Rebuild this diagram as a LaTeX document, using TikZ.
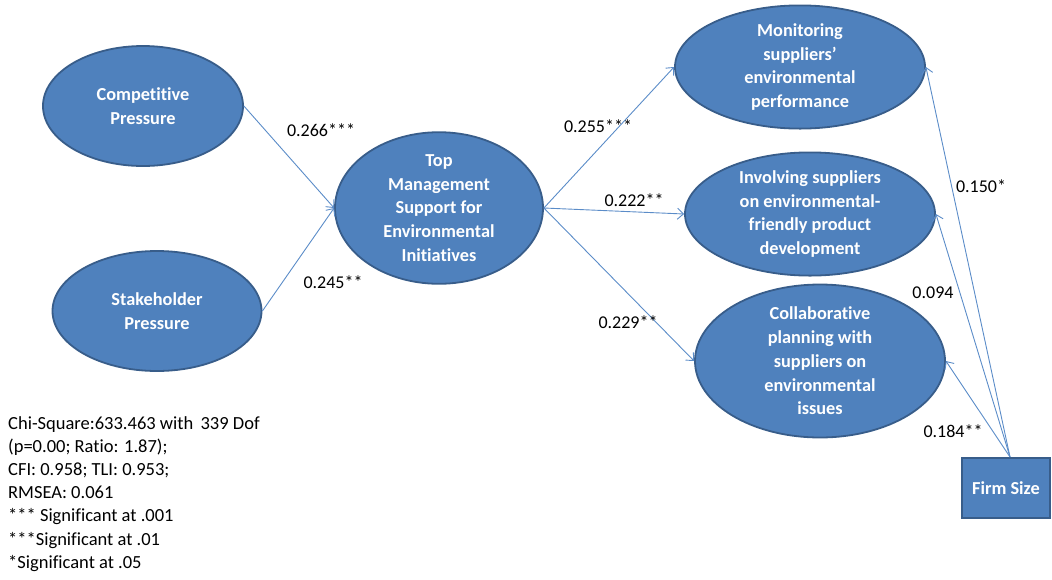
\documentclass[tikz,border=0pt]{standalone}
\usepackage{fontspec}
\setmainfont[Ligatures=NoCommon]{Carlito}
\usetikzlibrary{shapes.geometric,arrows.meta}
\definecolor{fillblue}{HTML}{4F81BD}
\definecolor{edgeblue}{HTML}{385D8A}
\definecolor{arrowblue}{HTML}{5B8CC8}
\tikzset{
  construct/.style={ellipse, draw=edgeblue, line width=1.8pt, fill=fillblue, text=white,
    font=\fontsize{18.3}{23.8}\selectfont\bfseries, align=center, inner sep=0pt},
  sizebox/.style={rectangle, draw=edgeblue, line width=1.8pt, fill=fillblue, text=white,
    font=\fontsize{18.3}{23.8}\selectfont\bfseries, align=center},
  path/.style={draw=arrowblue, line width=0.9pt, -{Straight Barb[length=6pt,width=11pt]}},
  coef/.style={font=\fontsize{18}{20}\selectfont, text=black, inner sep=1pt},
  legend/.style={font=\fontsize{18.5}{23.2}\selectfont, align=left, anchor=north west, inner sep=0pt}
}
\begin{document}
\begin{tikzpicture}[x=1pt,y=-1pt]
\useasboundingbox (0,0) rectangle (1052,579);
\node[construct, minimum width=200pt, minimum height=120pt] (cp) at (143,106) {Competitive\\Pressure};
\node[construct, minimum width=209pt, minimum height=120pt] (sp) at (157,311) {Stakeholder\\Pressure};
\node[construct, minimum width=208pt, minimum height=129pt] (tm) at (439,208) {Top\\Management\\Support for\\Environmental\\Initiatives};
\node[construct, minimum width=250pt, minimum height=120pt] (mo) at (800,67) {Monitoring\\suppliers'\\environmental\\performance};
\node[construct, minimum width=250pt, minimum height=118pt] (iv) at (810,214) {Involving suppliers\\on environmental-\\friendly product\\development};
\node[construct, minimum width=250pt, minimum height=118pt] (co) at (820,361) {Collaborative\\planning with\\suppliers on\\environmental\\issues};
\node[sizebox, minimum width=88pt, minimum height=60pt, inner sep=0pt] (fs) at (1006,488) {Firm Size};
\coordinate (fstop) at (1010,457);

\draw[path] (cp.east) -- (tm.west);
\draw[path] (sp.east) -- (tm.west);
\draw[path] (tm.east) -- (mo.west);
\draw[path] (tm.east) -- (iv.west);
\draw[path] (tm.east) -- (co.west);
\draw[path] (fstop) -- (mo.east);
\draw[path] (fstop) -- (iv.east);
\draw[path] (fstop) -- (co.east);

\node[coef] (l1) at (321,130) {0.266***};
\node[coef] (l2) at (333,282) {0.245**};
\node[coef] (l3) at (598,126) {0.255***};
\node[coef] (l4) at (634,200) {0.222**};
\node[coef] (l5) at (628,322) {0.229**};
\node[coef] (l6) at (981,186) {0.150*};
\node[coef] (l7) at (933,293) {0.094};
\node[coef] (l8) at (953,431) {0.184**};

\node[legend] (lg) at (8,416) {Chi-Square:633.463 with \,339 Dof\\(p=0.00; Ratio: 1.87);\\CFI: 0.958; TLI: 0.953;\\RMSEA: 0.061\\*** Significant at .001\\***Significant at .01\\*Significant at .05};
\end{tikzpicture}
\end{document}
